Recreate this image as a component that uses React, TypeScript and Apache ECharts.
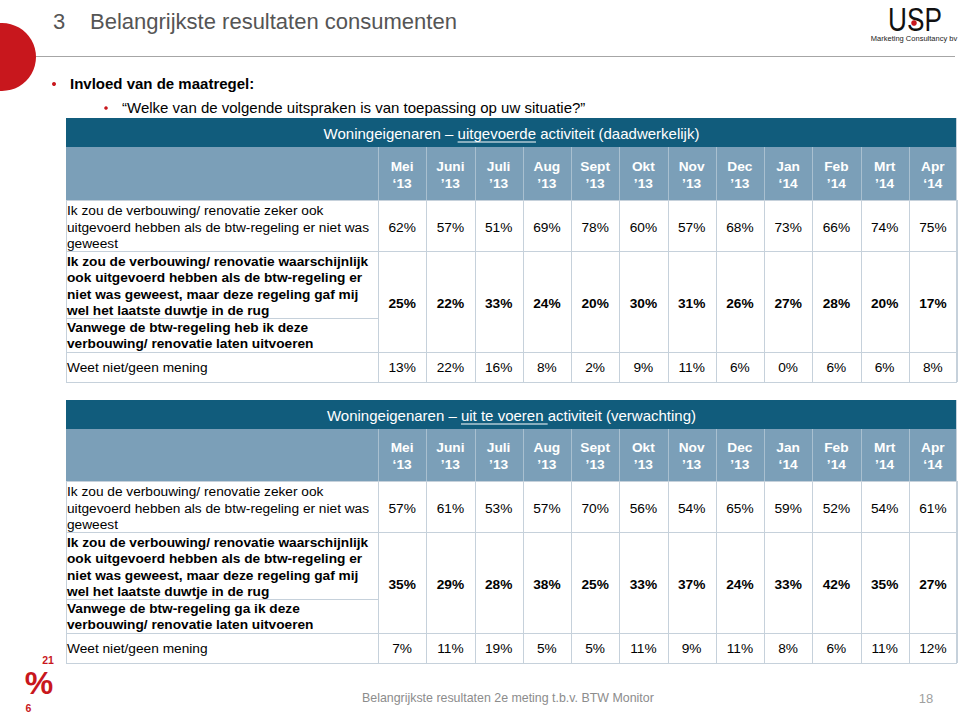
import React, { useEffect, useRef } from "react";
import * as echarts from "echarts";

// ---------- data ----------
const months = ["Mei", "Juni", "Juli", "Aug", "Sept", "Okt", "Nov", "Dec", "Jan", "Feb", "Mrt", "Apr"];
const years = ["‘13", "’13", "’13", "’13", "’13", "’13", "’13", "’13", "‘14", "’14", "’14", "‘14"];

const labelZeker = "Ik zou de verbouwing/ renovatie zeker ook\nuitgevoerd hebben als de btw-regeling er niet was\ngeweest";
const labelWaarschijnlijk = "Ik zou de verbouwing/ renovatie waarschijnlijk\nook uitgevoerd hebben als de btw-regeling er\nniet was geweest, maar deze regeling gaf mij\nwel het laatste duwtje in de rug";
const labelVanwege1 = "Vanwege de btw-regeling heb ik deze\nverbouwing/ renovatie laten uitvoeren";
const labelVanwege2 = "Vanwege de btw-regeling ga ik deze\nverbouwing/ renovatie laten uitvoeren";
const labelWeetNiet = "Weet niet/geen mening";

const titlePre = "Woningeigenaren – ";
const titleUnder1 = "uitgevoerde";
const titlePost1 = " activiteit (daadwerkelijk)";
const titleUnder2 = "uit te voeren ";
const titlePost2 = "activiteit (verwachting)";

const uitgevoerdZeker = [62, 57, 51, 69, 78, 60, 57, 68, 73, 66, 74, 75];
const uitgevoerdDuwtje = [25, 22, 33, 24, 20, 30, 31, 26, 27, 28, 20, 17];
const uitgevoerdWeetNiet = [13, 22, 16, 8, 2, 9, 11, 6, 0, 6, 6, 8];

const verwachtZeker = [57, 61, 53, 57, 70, 56, 54, 65, 59, 52, 54, 61];
const verwachtDuwtje = [35, 29, 28, 38, 25, 33, 37, 24, 33, 42, 35, 27];
const verwachtWeetNiet = [7, 11, 19, 5, 5, 11, 9, 11, 8, 6, 11, 12];

// ---------- styling ----------
const FONT = "'Liberation Sans', Arial, Helvetica, sans-serif";
const FS = 13.7;
const TFS = 15;
const DARK = "#115c7c";
const HEAD = "#7b9fb8";
const HEAD_SEP = "#a9c0d0";
const GRID = "#c6d1db";
const RED = "#c8171d";

function measure(txt: string, font: string): number {
  const c = document.createElement("canvas").getContext("2d");
  if (!c) return txt.length * 7;
  c.font = font;
  return c.measureText(txt).width;
}

type TableSpec = {
  top: number;
  titleH: number;
  headerH: number;
  row1H: number;
  row23H: number;
  splitAt: number;
  row4H: number;
  under: string;
  post: string;
  zeker: number[];
  duwtje: number[];
  weet: number[];
  vanwege: string;
};

function buildTable(t: TableSpec): any[] {
  const X0 = 66;
  const X1 = 957;
  const CX = 378;
  const colW = (X1 - CX) / months.length;
  const els: any[] = [];
  const yTitle = t.top;
  const yHead = yTitle + t.titleH;
  const yR1 = yHead + t.headerH;
  const yR2 = yR1 + t.row1H;
  const yR4 = yR2 + t.row23H;
  const yEnd = yR4 + t.row4H;

  els.push({ type: "rect", shape: { x: X0, y: yTitle, width: X1 - X0, height: t.titleH }, style: { fill: DARK } });
  els.push({ type: "rect", shape: { x: X0, y: yHead, width: X1 - X0, height: t.headerH }, style: { fill: HEAD } });
  els.push({ type: "rect", shape: { x: X0, y: yR1, width: X1 - X0, height: yEnd - yR1 }, style: { fill: "#ffffff" } });

  // title text with underlined part
  const tf = `${TFS}px 'Liberation Sans'`;
  const wPre = measure(titlePre, tf);
  const wUnder = measure(t.under, tf);
  const wPost = measure(t.post, tf);
  const total = wPre + wUnder + wPost;
  const tcx = (X0 + X1) / 2;
  const sx = tcx - total / 2;
  const ty = yTitle + t.titleH / 2 + 1;
  const tStyle = { fill: "#ffffff", fontSize: TFS, fontFamily: FONT, textVerticalAlign: "middle", verticalAlign: "middle", textAlign: "left", align: "left" };
  els.push({ type: "text", x: sx, y: ty, style: { ...tStyle, text: titlePre } });
  els.push({ type: "text", x: sx + wPre, y: ty, style: { ...tStyle, text: t.under } });
  els.push({ type: "line", shape: { x1: sx + wPre, y1: ty + 8.5, x2: sx + wPre + wUnder, y2: ty + 8.5 }, style: { stroke: "#ffffff", lineWidth: 1.1 } });
  els.push({ type: "text", x: sx + wPre + wUnder, y: ty, style: { ...tStyle, text: t.post } });

  // header months
  months.forEach((m, i) => {
    const cx = CX + colW * (i + 0.5);
    els.push({
      type: "text",
      x: cx,
      y: yHead + t.headerH / 2 + 1,
      style: {
        text: m + "\n" + years[i],
        fill: "#ffffff",
        fontSize: FS,
        fontWeight: "bold",
        fontFamily: FONT,
        lineHeight: 17,
        textAlign: "center",
        align: "center",
        textVerticalAlign: "middle",
        verticalAlign: "middle",
      },
    });
  });
  for (let i = 0; i < months.length; i++) {
    const x = Math.round(CX + colW * i) + 0.5;
    els.push({ type: "line", shape: { x1: x, y1: yHead, x2: x, y2: yR1 }, style: { stroke: HEAD_SEP, lineWidth: 1 } });
  }

  // body grid
  const hLine = (y: number, xa: number, xb: number) =>
    els.push({ type: "line", shape: { x1: xa, y1: Math.round(y) + 0.5, x2: xb, y2: Math.round(y) + 0.5 }, style: { stroke: GRID, lineWidth: 1 } });
  hLine(yR1, X0, X1);
  hLine(yR2, X0, X1);
  hLine(yR2 + t.splitAt, X0, CX);
  hLine(yR4, X0, X1);
  hLine(yEnd, X0, X1);
  for (let i = 0; i <= months.length; i++) {
    const x = Math.round(CX + colW * i) + 0.5;
    els.push({ type: "line", shape: { x1: x, y1: yR1, x2: x, y2: yEnd }, style: { stroke: GRID, lineWidth: 1 } });
  }
  els.push({ type: "line", shape: { x1: X0 + 0.5, y1: yR1, x2: X0 + 0.5, y2: yEnd }, style: { stroke: GRID, lineWidth: 1 } });
  els.push({ type: "line", shape: { x1: X1 - 0.5, y1: yTitle, x2: X1 - 0.5, y2: yEnd }, style: { stroke: GRID, lineWidth: 1 } });

  const lab = (text: string, y: number, bold: boolean) =>
    els.push({
      type: "text",
      x: X0 + 1,
      y,
      style: {
        text,
        fill: "#000000",
        fontSize: FS,
        fontWeight: bold ? "bold" : "normal",
        fontFamily: FONT,
        lineHeight: 16.3,
        textAlign: "left",
        align: "left",
        textVerticalAlign: "middle",
        verticalAlign: "middle",
      },
    });
  lab(labelZeker, yR1 + t.row1H / 2 + 1.5, false);
  lab(labelWaarschijnlijk, yR2 + t.splitAt / 2 + 1.5, true);
  lab(t.vanwege, yR2 + t.splitAt + (t.row23H - t.splitAt) / 2 + 0.5, true);
  lab(labelWeetNiet, yR4 + t.row4H / 2 + 0.5, false);

  const vals = (arr: number[], y: number, bold: boolean) =>
    arr.forEach((v, i) => {
      els.push({
        type: "text",
        x: CX + colW * (i + 0.5),
        y,
        style: {
          text: v + "%",
          fill: "#000000",
          fontSize: FS,
          fontWeight: bold ? "bold" : "normal",
          fontFamily: FONT,
          textAlign: "center",
          align: "center",
          textVerticalAlign: "middle",
          verticalAlign: "middle",
        },
      });
    });
  vals(t.zeker, yR1 + t.row1H / 2 + 1.5, false);
  vals(t.duwtje, yR2 + t.row23H / 2 + 1.5, true);
  vals(t.weet, yR4 + t.row4H / 2 + 0.5, false);
  return els;
}

export default function App() {
  const ref = useRef<HTMLDivElement>(null);
  useEffect(() => {
    if (!ref.current) return;
    const chart = echarts.init(ref.current, undefined, { renderer: "svg" });
    const els: any[] = [];

    // slide header
    els.push({ type: "circle", shape: { cx: 2, cy: 57, r: 34 }, style: { fill: RED } });
    els.push({ type: "line", shape: { x1: 36, y1: 56.5, x2: 955, y2: 56.5 }, style: { stroke: "#a6a6a6", lineWidth: 1.2 } });
    els.push({ type: "text", x: 53, y: 21, style: { text: "3", fill: "#555555", fontSize: 22, fontFamily: FONT, textVerticalAlign: "middle", verticalAlign: "middle" } });
    els.push({ type: "text", x: 90, y: 21, style: { text: "Belangrijkste resultaten consumenten", fill: "#555555", fontSize: 22, fontFamily: FONT, textVerticalAlign: "middle", verticalAlign: "middle" } });

    els.push({ type: "circle", shape: { cx: 54, cy: 84, r: 2 }, style: { fill: RED } });
    els.push({ type: "text", x: 70, y: 83, style: { text: "Invloed van de maatregel:", fill: "#000000", fontSize: 15, fontWeight: "bold", fontFamily: FONT, textVerticalAlign: "middle", verticalAlign: "middle" } });
    els.push({ type: "circle", shape: { cx: 106, cy: 108, r: 1.8 }, style: { fill: RED } });
    els.push({ type: "text", x: 122, y: 107, style: { text: "“Welke van de volgende uitspraken is van toepassing op uw situatie?”", fill: "#000000", fontSize: 15, fontFamily: FONT, textVerticalAlign: "middle", verticalAlign: "middle" } });

    // logo
    els.push({
      type: "group",
      x: 915,
      y: 19.5,
      scaleX: 0.77,
      children: [
        { type: "text", x: 0, y: 0, style: { text: "USP", fill: "#111111", fontSize: 34, lineHeight: 26, fontFamily: FONT, textAlign: "center", align: "center", textVerticalAlign: "middle", verticalAlign: "middle" } },
      ],
    });
    els.push({ type: "circle", shape: { cx: 914, cy: 23, r: 2.8 }, style: { fill: RED } });
    els.push({ type: "text", x: 914, y: 38.5, style: { text: "Marketing Consultancy bv", fill: "#222222", fontSize: 7.5, lineHeight: 8, fontFamily: FONT, textAlign: "center", align: "center", textVerticalAlign: "middle", verticalAlign: "middle" } });

    // tables
    els.push(...buildTable({ top: 118, titleH: 29, headerH: 53, row1H: 51, row23H: 101, splitAt: 67, row4H: 30, under: titleUnder1, post: titlePost1, zeker: uitgevoerdZeker, duwtje: uitgevoerdDuwtje, weet: uitgevoerdWeetNiet, vanwege: labelVanwege1 }));
    els.push(...buildTable({ top: 400, titleH: 29, headerH: 52, row1H: 51, row23H: 101, splitAt: 67, row4H: 30, under: titleUnder2, post: titlePost2, zeker: verwachtZeker, duwtje: verwachtDuwtje, weet: verwachtWeetNiet, vanwege: labelVanwege2 }));

    // bottom-left % logo
    els.push({ type: "text", x: 39, y: 683, style: { text: "%", fill: RED, fontSize: 32, lineHeight: 26, fontWeight: "bold", fontFamily: FONT, textAlign: "center", align: "center", textVerticalAlign: "middle", verticalAlign: "middle" } });
    els.push({ type: "text", x: 48, y: 660, style: { text: "21", fill: RED, fontSize: 10.5, lineHeight: 10, fontWeight: "bold", fontFamily: FONT, textAlign: "center", align: "center", textVerticalAlign: "middle", verticalAlign: "middle" } });
    els.push({ type: "text", x: 28.5, y: 707.5, style: { text: "6", fill: RED, fontSize: 10.5, lineHeight: 10, fontWeight: "bold", fontFamily: FONT, textAlign: "center", align: "center", textVerticalAlign: "middle", verticalAlign: "middle" } });

    // footer
    els.push({ type: "text", x: 362, y: 698, style: { text: "Belangrijkste resultaten 2e meting t.b.v. BTW Monitor", fill: "#8c8c8c", fontSize: 12.4, fontFamily: FONT, textVerticalAlign: "middle", verticalAlign: "middle" } });
    els.push({ type: "text", x: 926, y: 698, style: { text: "18", fill: "#a0a0a0", fontSize: 13, fontFamily: FONT, textAlign: "center", align: "center", textVerticalAlign: "middle", verticalAlign: "middle" } });

    chart.setOption({
      animation: false,
      backgroundColor: "#ffffff",
      graphic: { elements: els },
    });
    return () => chart.dispose();
  }, []);
  return <div ref={ref} style={{ position: "fixed", left: 0, top: 0, width: 960, height: 717, background: "#fff" }} />;
}
